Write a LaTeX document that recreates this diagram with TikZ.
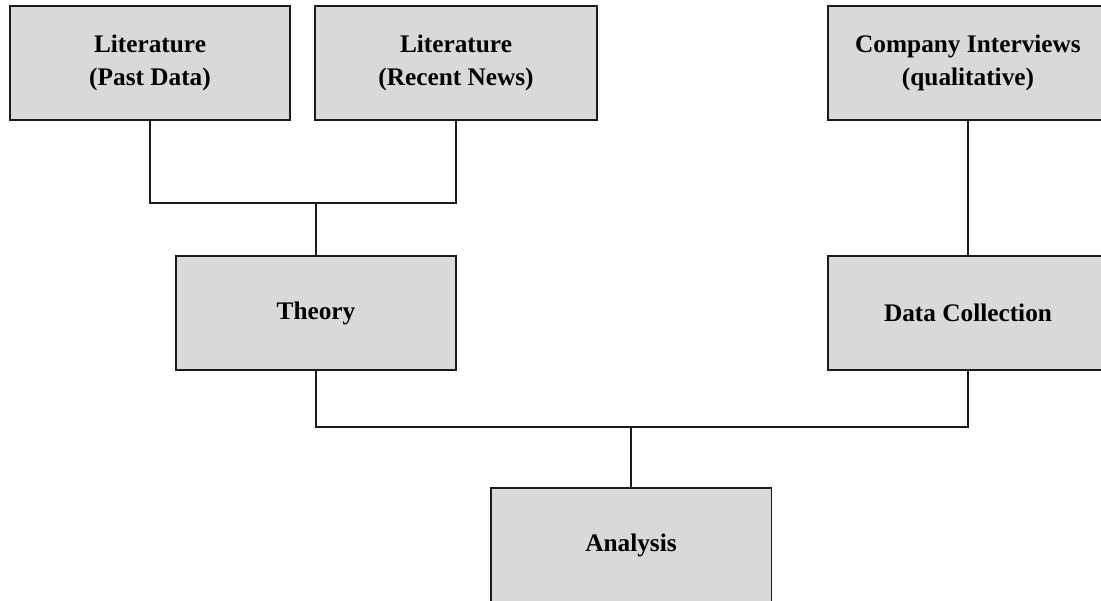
\documentclass[tikz,border=0pt]{standalone}
\usepackage{fontspec}
\setmainfont{Liberation Serif}
\usetikzlibrary{positioning}
\definecolor{boxFill}{HTML}{D9D9D9}
\definecolor{boxLine}{HTML}{1A1A1A}
\begin{document}
\begin{tikzpicture}[x=0.02cm, y=-0.02cm,
        stage/.style={draw=boxLine, line width=1.1pt, fill=boxFill, align=center, minimum width=5.6cm, minimum height=2.28cm, inner sep=0pt, font=\bfseries\fontsize{14.4}{19}\selectfont},
        link/.style={boxLine, line width=0.8pt}]
        \useasboundingbox (0,0) rectangle (1101,600);
        \node[stage] (past) at (150,63) {Literature\\(Past Data)};
        \node[stage, minimum width=5.64cm] (news) at (456,63) {Literature\\(Recent News)};
        \node[stage] (interviews) at (968,63) {Company Interviews\\(qualitative)};
        \node[stage] (theory) at (316,313) {Theory};
        \node[stage] (collect) at (968,313) {Data Collection};
        \node[stage, minimum width=5.62cm] (analysis) at (631,545) {Analysis};
        \coordinate (joinTop) at (316,203);
        \coordinate (joinBot) at (631,427);
        \draw[link] (past.south) |- (joinTop) -| (news.south);
        \draw[link] (joinTop) -- (theory.north);
        \draw[link] (interviews.south) -- (collect.north);
        \draw[link] (theory.south) |- (joinBot) -| (collect.south);
        \draw[link] (joinBot) -- (analysis.north);
      \end{tikzpicture}
\end{document}
